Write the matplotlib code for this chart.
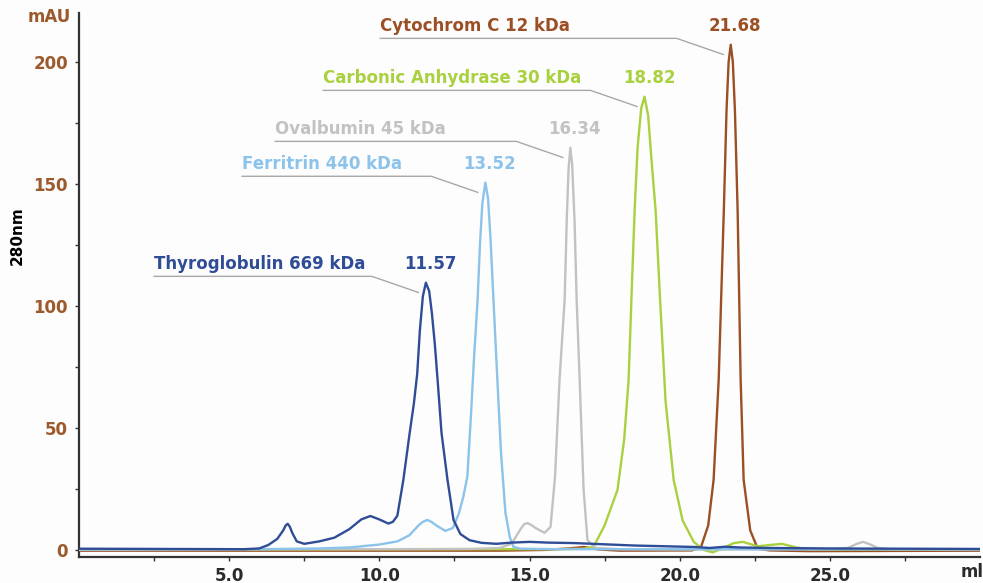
import numpy as np
import matplotlib
matplotlib.use("Agg")
import matplotlib.pyplot as plt

# Elution volume (ml) and absorbance at 280 nm (mAU).
THYRO_X = [0, 5.5, 6.0, 6.3, 6.6, 6.8, 6.88, 6.95, 7.02, 7.1, 7.25, 7.5, 8.0, 8.5,
           9.0, 9.4, 9.7, 10.0, 10.3, 10.45, 10.6, 10.8, 11.0, 11.15, 11.26,
           11.35, 11.45, 11.55, 11.66, 11.75, 11.85, 11.95, 12.07, 12.27, 12.47,
           12.7, 13.0, 13.4, 13.9, 14.4, 15.0, 15.6, 16.5, 17.5, 18.5, 19.5, 20.5,
           21.0, 21.5, 22.0, 23.0, 25.0, 30.0]
THYRO_Y = [0.5, 0.3, 0.6, 2.0, 4.5, 8.0, 10.0, 10.7, 9.5, 7.0, 3.5, 2.5, 3.5, 5.0,
           8.5, 12.5, 13.9, 12.5, 10.8, 11.5, 14.0, 28.7, 47, 60, 72,
           90, 104, 109.5, 106, 97, 84, 68, 48, 28.7, 12.3,
           6.5, 4.0, 2.9, 2.5, 3.0, 3.3, 3.0, 2.8, 2.3, 1.8, 1.5, 1.2,
           0.8, 1.3, 1.0, 0.8, 0.6, 0.4]

FERRI_X = [0, 6, 8, 9, 10, 10.6, 11.0, 11.3, 11.45, 11.6, 11.75, 11.9, 12.2, 12.45,
           12.65, 12.8, 12.93, 13.05, 13.15, 13.27, 13.35, 13.43, 13.53, 13.62,
           13.7, 13.8, 13.93, 14.05, 14.2, 14.35, 14.47, 14.7, 16, 20, 30]
FERRI_Y = [0.2, 0.3, 0.6, 1.0, 2.2, 3.5, 6.0, 10.0, 11.5, 12.3, 11.4, 10.0, 7.8, 9.0,
           15, 22, 30, 55, 78, 102, 125, 142, 150.5, 144,
           128, 102.5, 69.7, 40, 15, 5, 1.2, 0.5, 0.3, 0.3, 0.2]

OVAL_X = [0, 6, 10, 13, 14.0, 14.4, 14.7, 14.82, 14.93, 15.05, 15.2, 15.5, 15.7,
          15.85, 16.0, 16.17, 16.24, 16.3, 16.36, 16.42, 16.5, 16.57, 16.67, 16.8,
          16.93, 17.2, 18, 20, 25, 25.6, 25.9, 26.1, 26.3, 26.6, 27, 30]
OVAL_Y = [0.1, 0.3, 0.3, 0.4, 0.8, 2.5, 8.5, 10.5, 11.0, 10.3, 9.0, 7.0, 9.4,
          30, 69.7, 102.5, 135, 156, 164.8, 158, 135, 102.5, 69.7, 25,
          4.0, 0.8, 0.3, 0.2, 0.3, 0.8, 2.5, 3.3, 2.5, 0.8, 0.3, 0.2]

CARB_X = [0, 6, 14, 16, 16.8, 17.13, 17.5, 17.93, 18.15, 18.3, 18.4, 18.5, 18.6,
          18.72, 18.83, 18.95, 19.07, 19.2, 19.35, 19.53, 19.8, 20.1, 20.47, 20.8,
          21.1, 21.4, 21.8, 22.1, 22.6, 23.0, 23.4, 23.9, 24.3, 30]
CARB_Y = [0.2, 0.2, 0.3, 0.3, 0.5, 1.2, 10, 24.6, 45, 69.7, 105, 139, 165,
          181, 185.7, 178, 158.6, 139, 102, 61, 28.7, 12, 3.3, 0.0,
          -1.0, 0.5, 2.8, 3.3, 1.5, 2.0, 2.5, 1.0, 0.2, 0.2]

CYTO_X = [0, 14, 15.5, 16.3, 16.8, 17.3, 18, 20.4, 20.7, 20.95, 21.13, 21.3, 21.47,
          21.56, 21.63, 21.7, 21.77, 21.84, 21.93, 22.03, 22.13, 22.35, 22.6, 23,
          24.3, 30]
CYTO_Y = [-0.3, -0.3, 0.0, 0.6, 1.2, 0.2, -0.3, -0.2, 0.8, 10, 28.7, 70, 139,
          180, 200, 207, 200, 180, 139, 70, 28.7, 8, 0.5, -0.2,
          -0.5, -0.3]

NAMES = ["Cytochrom C 12 kDa", "Carbonic Anhydrase 30 kDa", "Ovalbumin 45 kDa",
         "Ferritrin 440 kDa", "Thyroglobulin 669 kDa"]
PEAK_LABELS = ["21.68", "18.82", "16.34", "13.52", "11.57"]
SERIES = [(CYTO_X, CYTO_Y), (CARB_X, CARB_Y), (OVAL_X, OVAL_Y),
          (FERRI_X, FERRI_Y), (THYRO_X, THYRO_Y)]
COLORS = ["#9b4f24", "#a9d13f", "#c2c2c2", "#8cc3ea", "#2f4c96"]

# left edge of each name label (ml), layout only
LABEL_LEFT = [10.03, 8.13, 6.53, 5.43, 2.5]

TICK_BROWN = "#9c5a2c"
DARK = "#2a2a2a"

fig = plt.figure(figsize=(9.83, 5.83), dpi=100)
fig.patch.set_facecolor("#fdfdfd")
ax = fig.add_axes([79 / 983, 1 - 557 / 583, 901 / 983, 544 / 583])
ax.set_facecolor("#fdfdfd")

for (xs, ys), col in zip(SERIES, COLORS):
    ax.plot(xs, ys, color=col, lw=1.7, solid_joinstyle="round", zorder=3)

# peak labels with leader lines
for (xs, ys), col, name, num, left in zip(SERIES, COLORS, NAMES, PEAK_LABELS,
                                          LABEL_LEFT):
    i = int(np.argmax(ys))
    px, py = xs[i], ys[i]
    line_y = py + 2.6
    brk = px - 1.8
    ax.plot([left, brk, px - 0.25], [line_y, line_y, py - 4],
            color="#a8a8a8", lw=1.0, zorder=2)
    ax.text(left, line_y + 1.2, name, color=col, fontsize=12,
            fontweight="bold", ha="left", va="bottom")
    ax.text(px + 0.15, line_y + 1.2, num, color=col, fontsize=12,
            fontweight="bold", ha="center", va="bottom")

ax.set_xlim(0, 30)
ax.set_ylim(-2.9, 220)
ax.set_xticks([5, 10, 15, 20, 25])
ax.set_xticklabels(["5.0", "10.0", "15.0", "20.0", "25.0"])
ax.set_xticks(np.arange(2.5, 30, 5), minor=True)
ax.set_yticks([0, 50, 100, 150, 200])
ax.set_yticks([25, 75, 125, 175], minor=True)

for s in ["top", "right"]:
    ax.spines[s].set_visible(False)
for s in ["left", "bottom"]:
    ax.spines[s].set_color("#333333")
    ax.spines[s].set_linewidth(1.6)

ax.tick_params(axis="both", which="both", length=3, width=1, color="#333333",
               direction="out")
ax.tick_params(axis="x", labelsize=12, labelcolor=DARK, pad=4)
ax.tick_params(axis="y", labelsize=12, labelcolor=TICK_BROWN, pad=5)
for lab in ax.get_xticklabels() + ax.get_yticklabels():
    lab.set_fontweight("bold")

fig.text(49 / 983, 1 - 17 / 583, "mAU", color=TICK_BROWN, fontsize=12,
         fontweight="bold", ha="center", va="center")
fig.text(17 / 983, 1 - 236 / 583, "280nm", color="black", fontsize=11,
         fontweight="bold", ha="center", va="center", rotation=90)
fig.text(972 / 983, 1 - 572 / 583, "ml", color=DARK, fontsize=12,
         fontweight="bold", ha="center", va="center")

fig.savefig("out.png", dpi=100, facecolor=fig.get_facecolor())
